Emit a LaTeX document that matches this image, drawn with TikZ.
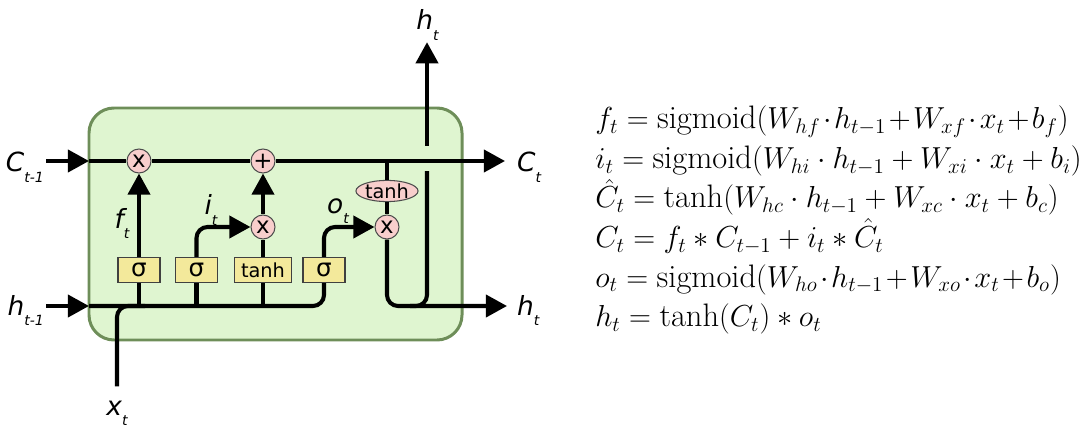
\documentclass[tikz,border=0pt]{standalone}
\usepackage{fontspec}
\newfontfamily\dejavu{DejaVu Sans}
\usetikzlibrary{arrows.meta,shapes.geometric}

\definecolor{cellfill}{HTML}{DFF5D0}
\definecolor{cellborder}{HTML}{6E8E59}
\definecolor{gatefill}{HTML}{F3E99B}
\definecolor{opfill}{HTML}{F8CECC}

\newcommand{\sublbl}[2]{#1\raisebox{-0.7ex}{\fontsize{8}{8}\selectfont #2}}
\newcommand{\tb}[1]{\mkern1.5mu{#1}\mkern1.5mu}

\tikzset{
  wire/.style={line width=2.3pt},
  arr/.style={wire, -{Triangle[length=12pt,width=12.5pt]}},
  gate/.style={draw=black!75, fill=gatefill, line width=0.6pt, minimum width=0.84cm,
    minimum height=0.5cm, inner sep=0pt, font=\dejavu\fontsize{14}{14}\selectfont},
  op/.style={circle, draw=black!70, fill=opfill, line width=0.6pt, minimum size=0.48cm,
    inner sep=0pt, font=\dejavu\fontsize{13}{13}\selectfont},
  lbl/.style={inner sep=1pt, font=\dejavu\itshape\fontsize{15}{15}\selectfont},
  eq/.style={inner sep=0pt, font=\fontsize{18.5}{21}\selectfont}
}

\begin{document}
\begin{tikzpicture}
\useasboundingbox (0,0) rectangle (21.6,8.54);

% cell body
\draw[draw=cellborder, fill=cellfill, line width=1.7pt, rounded corners=0.5cm]
  (1.78,1.74) rectangle (9.24,6.38);

% points on the cell and hidden lines
\coordinate (cL) at (1.78,5.32);
\coordinate (cE) at (10.1,5.32);
\coordinate (cB) at (7.74,5.32);
\coordinate (hL) at (1.78,2.42);
\coordinate (hE) at (10.14,2.42);
\coordinate (xJ) at (2.9,2.42);
\coordinate (vJ) at (8.2,2.42);
\coordinate (vA) at (8.54,5.12);
\coordinate (vB) at (8.54,5.62);

% pointwise operations
\node[op] (mulf) at (2.78,5.32) {x};
\node[op] (add) at (5.26,5.32) {+};
\node[op] (muli) at (5.26,4.0) {x};
\node[op] (mulo) at (7.74,4.0) {x};
\node[op, ellipse, minimum width=1.16cm, minimum height=0.38cm,
  font=\dejavu\fontsize{11}{11}\selectfont] (tanhc) at (7.74,4.72) {tanh};

% layers
\node[gate] (sigf) at (2.78,3.14) {σ};
\node[gate] (sigi) at (3.93,3.14) {σ};
\node[gate, minimum width=1.14cm, font=\dejavu\fontsize{11}{11}\selectfont] (tanhi) at (5.26,3.14) {tanh};
\node[gate] (sigo) at (6.48,3.14) {σ};

% labels
\node[lbl, anchor=base east] (Cin) at (0.92,5.10) {\sublbl{C}{t-1}};
\node[lbl, anchor=base east] (hin) at (0.92,2.24) {\sublbl{h}{t-1}};
\node[lbl, anchor=base west] (Cout) at (10.3,5.10) {\sublbl{C}{t}};
\node[lbl, anchor=base west] (hout) at (10.3,2.24) {\sublbl{h}{t}};
\node[lbl, anchor=base] (htop) at (8.55,7.94) {\sublbl{h}{t}};
\node[lbl, anchor=base] (xin) at (2.34,0.24) {\sublbl{x}{t}};
\node[lbl, anchor=base] (ft) at (2.44,3.98) {\sublbl{f}{t}};
\node[lbl, anchor=base] (it) at (4.22,4.24) {\sublbl{i}{t}};
\node[lbl, anchor=base] (ot) at (6.76,4.28) {\sublbl{o}{t}};

% cell state
\draw[arr] (Cin.east |- cL) -- (cL);
\draw[wire] (cL) -- (mulf) -- (add);
\draw[arr] (add) -- (cE);
\draw[wire] (cB) -- (tanhc);
\draw[wire] (tanhc) -- (mulo);

% hidden state and input
\draw[arr] (hin.east |- hL) -- (hL);
\draw[wire, rounded corners=0.22cm] (hL) -| (sigo);
\foreach \g in {sigf,sigi,tanhi}
  \draw[wire] (\g) -- (\g |- hL);
\draw[wire, rounded corners=0.22cm] ([yshift=0.24cm]xin.north) |- (xJ);

% gates
\draw[arr] (sigf) -- (mulf);
\draw[arr, rounded corners=0.22cm] (sigi) |- (muli);
\draw[wire] (tanhi) -- (muli);
\draw[arr] (muli) -- (add);
\draw[arr, rounded corners=0.22cm] (sigo) |- (mulo);

% output
\draw[arr, rounded corners=0.22cm] (mulo) |- (hE);
\draw[wire, rounded corners=0.22cm] (vJ) -| (vA);
\draw[arr] (vB) -- (vB |- htop.south);

% equations
\foreach \eq [count=\i] in {
  {f_t = \mathrm{sigmoid}(W_{hf}\tb\cdot h_{t-1}\tb+W_{xf}\tb\cdot x_t\tb+b_f)},
  {i_t = \mathrm{sigmoid}(W_{hi}\cdot h_{t-1}+W_{xi}\cdot x_t+b_i)},
  {\hat{C}_t = \tanh(W_{hc}\cdot h_{t-1}+W_{xc}\cdot x_t+b_c)},
  {C_t = f_t\ast C_{t-1}+i_t\ast\hat{C}_t},
  {o_t = \mathrm{sigmoid}(W_{ho}\tb\cdot h_{t-1}\tb+W_{xo}\tb\cdot x_t\tb+b_o)},
  {h_t = \tanh(C_t)\ast o_t}}
  \node[eq, anchor=base west] (eq\i) at (11.9,{5.96-0.79*(\i-1)}) {$\eq$};
\end{tikzpicture}
\end{document}
